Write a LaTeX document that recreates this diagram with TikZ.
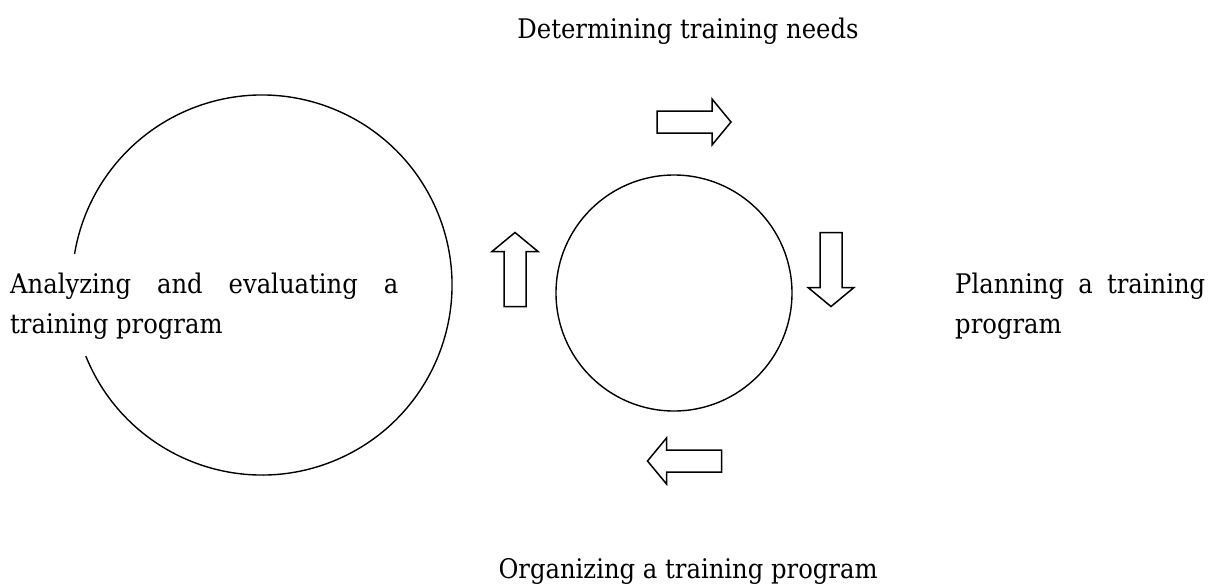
\documentclass[tikz,border=0pt]{standalone}
\usepackage{fontspec}
\setmainfont{DejaVu Serif Condensed}
\begin{document}
\begin{tikzpicture}[x=1pt,y=-1pt,
  ring/.style={draw=black,line width=1.4pt},
  arrowline/.style={draw=black,line width=1.5pt,line join=miter,fill=white},
  lbl/.style={font=\fontsize{27}{40}\selectfont,inner sep=0pt},
  blockarr/.pic={\path[arrowline] (-37,-11) -- (18,-11) -- (18,-23) -- (37,0) -- (18,23) -- (18,11) -- (-37,11) -- cycle;}]
\useasboundingbox (0,0) rectangle (1211,587);
\fill[white] (0,0) rectangle (1211,587);
% circles
\coordinate (big) at (262,285);
\draw[ring] ([shift={(big)}] 202:190pt) arc[start angle=202,end angle=530.6,radius=190pt];
\node[ring,circle,minimum size=236pt,inner sep=0pt] (small) at (674,293) {};
% block arrows
\pic (atop) at (694,122) {blockarr};
\pic[rotate=-90] (aright) at (831,269.5) {blockarr};
\pic[rotate=180] (abottom) at (684.5,461) {blockarr};
\pic[rotate=90] (aleft) at (515,269.5) {blockarr};
% labels
\node[lbl,anchor=base] (need) at (688,38) {Determining training needs};
\node[lbl,anchor=base] (org) at (688,578) {Organizing a training program};
\node[lbl,anchor=base west] (anal1) at (10,293) {\makebox[388pt][s]{Analyzing and evaluating a}};
\node[lbl,anchor=base west] (anal2) at (10,333) {training program};
\node[lbl,anchor=base west] (plan1) at (955,293) {\makebox[250pt][s]{Planning a training}};
\node[lbl,anchor=base west] (plan2) at (955,333) {program};
\end{tikzpicture}
\end{document}
